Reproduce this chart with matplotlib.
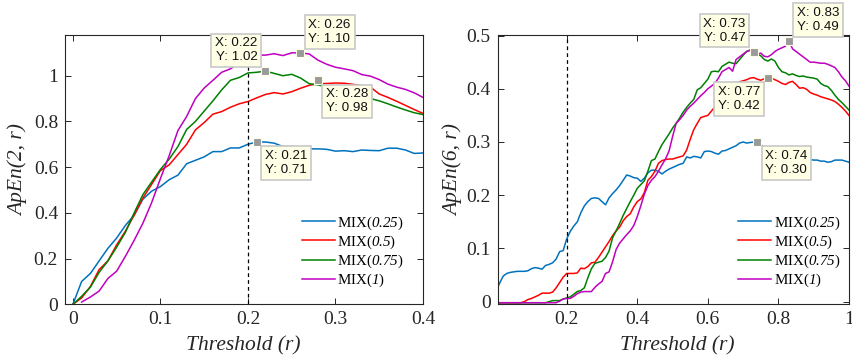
import numpy as np
import matplotlib
matplotlib.use('Agg')
import matplotlib.pyplot as plt

plt.rcParams['font.family'] = 'Liberation Serif'
plt.rcParams['mathtext.fontset'] = 'custom'
plt.rcParams['mathtext.rm'] = 'Liberation Serif'
# italic digits: the 'it' slot falls back to upright for non-letters, so use 'sf'
plt.rcParams['mathtext.sf'] = 'Liberation Serif:italic'

# threshold grids
r_m2 = np.linspace(0, 0.4, 41)
r_m6 = np.linspace(0, 1.0, 101)

# ApEn(2, r) for each MIX(p) signal
apen2_mix025 = [0.0, 0.10, 0.135, 0.19, 0.245, 0.29, 0.345, 0.39, 0.46, 0.495,
                0.515, 0.545, 0.565, 0.615, 0.63, 0.645, 0.668, 0.668, 0.684, 0.684,
                0.70, 0.71, 0.71, 0.705, 0.69, 0.69, 0.688, 0.68, 0.68, 0.678,
                0.67, 0.672, 0.668, 0.675, 0.673, 0.672, 0.683, 0.683, 0.675, 0.66,
                0.662]
apen2_mix05 = [0.0, 0.028, 0.078, 0.152, 0.19, 0.26, 0.32, 0.39, 0.465, 0.525,
               0.585, 0.61, 0.655, 0.70, 0.763, 0.795, 0.832, 0.843, 0.862, 0.877,
               0.887, 0.903, 0.918, 0.926, 0.92, 0.93, 0.945, 0.958, 0.965, 0.966,
               0.968, 0.967, 0.962, 0.957, 0.95, 0.92, 0.905, 0.888, 0.87, 0.852,
               0.835]
apen2_mix075 = [0.0, 0.035, 0.075, 0.14, 0.19, 0.25, 0.315, 0.40, 0.48, 0.535,
                0.59, 0.635, 0.69, 0.765, 0.80, 0.845, 0.89, 0.938, 0.98, 0.992,
                1.012, 1.015, 1.02, 1.01, 1.0, 1.006, 0.99, 0.965, 0.96, 0.95,
                0.935, 0.925, 0.915, 0.905, 0.90, 0.89, 0.877, 0.863, 0.85, 0.838,
                0.83]
apen2_mix1 = [np.nan, 0.01, 0.032, 0.058, 0.113, 0.145, 0.21, 0.28, 0.355, 0.445,
              0.55, 0.65, 0.76, 0.822, 0.90, 0.946, 0.98, 1.015, 1.03, 1.056,
              1.08, 1.09, 1.09, 1.096, 1.088, 1.10, 1.10, 1.095, 1.068, 1.05,
              1.037, 1.03, 1.022, 1.005, 0.998, 0.983, 0.963, 0.95, 0.94, 0.925,
              0.905]

# ApEn(6, r) for each MIX(p) signal
apen6_mix025 = [0.02, 0.035, 0.048, 0.053, 0.055, 0.056, 0.057, 0.057, 0.057, 0.058,
                0.062, 0.064, 0.063, 0.061, 0.068, 0.07, 0.073, 0.08, 0.094, 0.096,
                0.118, 0.132, 0.142, 0.15, 0.167, 0.18, 0.188, 0.194, 0.195, 0.194,
                0.188, 0.182, 0.195, 0.203, 0.21, 0.218, 0.228, 0.238, 0.236, 0.233,
                0.232, 0.226, 0.232, 0.242, 0.247, 0.247, 0.245, 0.24, 0.245, 0.249,
                0.252, 0.255, 0.258, 0.26, 0.272, 0.27, 0.273, 0.272, 0.27, 0.282,
                0.283, 0.282, 0.279, 0.277, 0.283, 0.284, 0.287, 0.29, 0.293, 0.298,
                0.30, 0.298, 0.299, 0.30, 0.30, 0.295, 0.29, 0.285, 0.28, 0.276,
                0.274, 0.272, 0.27, 0.27, 0.27, 0.269, 0.269, 0.268, 0.268, 0.267,
                0.266, 0.266, 0.264, 0.264, 0.262, 0.263, 0.266, 0.266, 0.266, 0.264,
                0.262]
apen6_mix05 = [-0.002, -0.002, -0.002, -0.002, -0.002, -0.002, -0.002, -0.002, 0.0, 0.004,
               0.006, 0.009, 0.012, 0.016, 0.016, 0.016, 0.018, 0.026, 0.036, 0.046,
               0.053, 0.053, 0.053, 0.054, 0.063, 0.062, 0.066, 0.073, 0.074, 0.083,
               0.093, 0.103, 0.113, 0.124, 0.133, 0.14, 0.152, 0.16, 0.165, 0.178,
               0.188, 0.193, 0.205, 0.228, 0.235, 0.245, 0.26, 0.265, 0.267, 0.268,
               0.268, 0.27, 0.272, 0.274, 0.285, 0.305, 0.323, 0.335, 0.346, 0.348,
               0.35, 0.358, 0.366, 0.375, 0.385, 0.393, 0.40, 0.405, 0.41, 0.413,
               0.415, 0.417, 0.42, 0.421, 0.418, 0.416, 0.419, 0.42, 0.42, 0.417,
               0.414, 0.41, 0.408, 0.412, 0.414, 0.408, 0.401, 0.402, 0.399, 0.393,
               0.39, 0.388, 0.385, 0.383, 0.381, 0.379, 0.376, 0.371, 0.365, 0.358,
               0.35]
apen6_mix075 = [-0.002, -0.002, -0.002, -0.002, -0.002, -0.002, -0.002, -0.002, -0.002, -0.002,
                -0.002, -0.002, -0.002, -0.002, -0.002, 0.0, 0.002, 0.002, 0.002, 0.005,
                0.007, 0.009, 0.014, 0.019, 0.021, 0.026, 0.045, 0.062, 0.072, 0.074,
                0.076, 0.083, 0.095, 0.12, 0.133, 0.147, 0.162, 0.175, 0.188, 0.20,
                0.213, 0.22, 0.227, 0.245, 0.265, 0.268, 0.282, 0.295, 0.305, 0.315,
                0.326, 0.335, 0.345, 0.356, 0.365, 0.373, 0.38, 0.398, 0.402, 0.41,
                0.418, 0.432, 0.433, 0.432, 0.442, 0.446, 0.45, 0.448, 0.447, 0.455,
                0.463, 0.47, 0.473, 0.47, 0.465, 0.462, 0.455, 0.452, 0.456, 0.452,
                0.44, 0.432, 0.43, 0.426, 0.428, 0.425, 0.423, 0.424, 0.422, 0.421,
                0.42, 0.418, 0.41, 0.406, 0.404, 0.397, 0.388, 0.38, 0.374, 0.367,
                0.36]
apen6_mix1 = [-0.002, -0.002, -0.002, -0.002, -0.002, -0.002, -0.002, -0.002, -0.002, -0.002,
              -0.002, -0.002, -0.002, -0.002, -0.002, -0.002, -0.002, -0.002, 0.001, 0.005,
              0.006, 0.006, 0.01, 0.015, 0.018, 0.019, 0.019, 0.019, 0.027, 0.033,
              0.038, 0.053, 0.056, 0.075, 0.098, 0.11, 0.118, 0.126, 0.133, 0.143,
              0.16, 0.18, 0.202, 0.218, 0.228, 0.235, 0.245, 0.257, 0.268, 0.283,
              0.31, 0.335, 0.342, 0.35, 0.36, 0.367, 0.373, 0.38, 0.387, 0.393,
              0.40, 0.405, 0.41, 0.42, 0.432, 0.436, 0.44, 0.433, 0.455, 0.46,
              0.465, 0.47, 0.472, 0.468, 0.465, 0.467, 0.461, 0.46, 0.464, 0.47,
              0.474, 0.477, 0.48, 0.49, 0.475, 0.47, 0.465, 0.46, 0.455, 0.45,
              0.45, 0.449, 0.448, 0.448, 0.446, 0.443, 0.44, 0.432, 0.422, 0.415,
              0.405]

labels = ['MIX($\\mathsf{0.25}$)', 'MIX($\\mathsf{0.5}$)',
          'MIX($\\mathsf{0.75}$)', 'MIX($\\mathsf{1}$)']
colors = ['#0072BD', '#FF0000', '#008000', '#C000C0']

# data tips (x, y)
tips2_x = [0.22, 0.26, 0.28, 0.21]
tips2_y = [1.02, 1.10, 0.98, 0.71]
tips6_x = [0.73, 0.83, 0.77, 0.74]
tips6_y = [0.47, 0.49, 0.42, 0.30]

fig = plt.figure(figsize=(8.53, 3.62), dpi=100)
ax1 = fig.add_axes([0.0762, 0.1593, 0.4197, 0.7440])
ax2 = fig.add_axes([0.5835, 0.1593, 0.4118, 0.7440])


def datatip(ax, x, y, dx, dy):
    ax.plot(x, y, 's', ms=5.5, mfc='#9A9A9A', mec='#FFFFE6', mew=0.8, zorder=5,
            clip_on=False)
    ax.annotate(f'X: {x:.2f}\nY: {y:.2f}', xy=(x, y), xytext=(dx, dy),
                textcoords='offset pixels',
                ha='left' if dx > 0 else 'right',
                va='bottom' if dy > 0 else 'top',
                fontsize=9.6, family='Liberation Sans', color='#111111',
                linespacing=1.2, annotation_clip=False, zorder=6,
                bbox=dict(boxstyle='square,pad=0.28', fc='#FFFFE6', ec='#C8C8C8', lw=1.2))


def style(ax):
    for s in ax.spines.values():
        s.set_color('#262626')
        s.set_linewidth(0.8)
    ax.tick_params(direction='in', length=4, width=0.7, top=True, right=True,
                   labelsize=14, colors='#262626', pad=5)
    ax.set_xlabel('Threshold (r)', fontsize=15.5, style='italic', color='#262626')


def legend(ax, x0, y0):
    ax.legend(loc='upper left', bbox_to_anchor=(x0, y0), frameon=False,
              fontsize=10.8, handlelength=2.2, handletextpad=0.15, labelspacing=0.12,
              borderpad=0, borderaxespad=0)


series2 = [apen2_mix025, apen2_mix05, apen2_mix075, apen2_mix1]
for vals, lab, c in zip(series2, labels, colors):
    ax1.plot(r_m2, vals, color=c, lw=1.1, label=lab)
ax1.axvline(0.2, color='black', ls=(0, (3, 2.5)), lw=0.9)
ax1.set_xlim(-0.009, 0.4)
ax1.set_ylim(0, 1.178)
ax1.set_xticks([0, 0.1, 0.2, 0.3, 0.4])
ax1.set_xticklabels(['0', '0.1', '0.2', '0.3', '0.4'])
ax1.set_yticks([0, 0.2, 0.4, 0.6, 0.8, 1.0])
ax1.set_yticklabels(['0', '0.2', '0.4', '0.6', '0.8', '1'])
style(ax1)
ax1.set_ylabel('ApEn(2, r)', fontsize=15.5, style='italic', color='#262626')
ax1.yaxis.set_label_coords(-0.103, 0.5)
ax1.xaxis.set_label_coords(0.497, -0.12)
legend(ax1, 0.661, 0.334)

offsets2 = [(-8, 8), (8, 8), (8, -8), (8, -8)]
for x, y, (dx, dy) in zip(tips2_x, tips2_y, offsets2):
    datatip(ax1, x, y, dx, dy)

series6 = [apen6_mix025, apen6_mix05, apen6_mix075, apen6_mix1]
for vals, lab, c in zip(series6, labels, colors):
    ax2.plot(r_m6, vals, color=c, lw=1.1, label=lab)
ax2.axvline(0.2, color='black', ls=(0, (3, 2.5)), lw=0.9)
ax2.set_xlim(0.0045, 1.0)
ax2.set_ylim(-0.005, 0.501)
ax2.set_xticks([0.2, 0.4, 0.6, 0.8, 1.0])
ax2.set_xticklabels(['0.2', '0.4', '0.6', '0.8', '1'])
ax2.set_yticks([0, 0.1, 0.2, 0.3, 0.4, 0.5])
ax2.set_yticklabels(['0', '0.1', '0.2', '0.3', '0.4', '0.5'])
style(ax2)
ax2.set_ylabel('ApEn(6, r)', fontsize=15.5, style='italic', color='#262626')
ax2.yaxis.set_label_coords(-0.099, 0.5)
ax2.xaxis.set_label_coords(0.51, -0.12)
legend(ax2, 0.685, 0.334)

offsets6 = [(-8, 8), (8, 8), (-8, -8), (8, -8)]
for x, y, (dx, dy) in zip(tips6_x, tips6_y, offsets6):
    datatip(ax2, x, y, dx, dy)

fig.savefig('out.png', dpi=100)
